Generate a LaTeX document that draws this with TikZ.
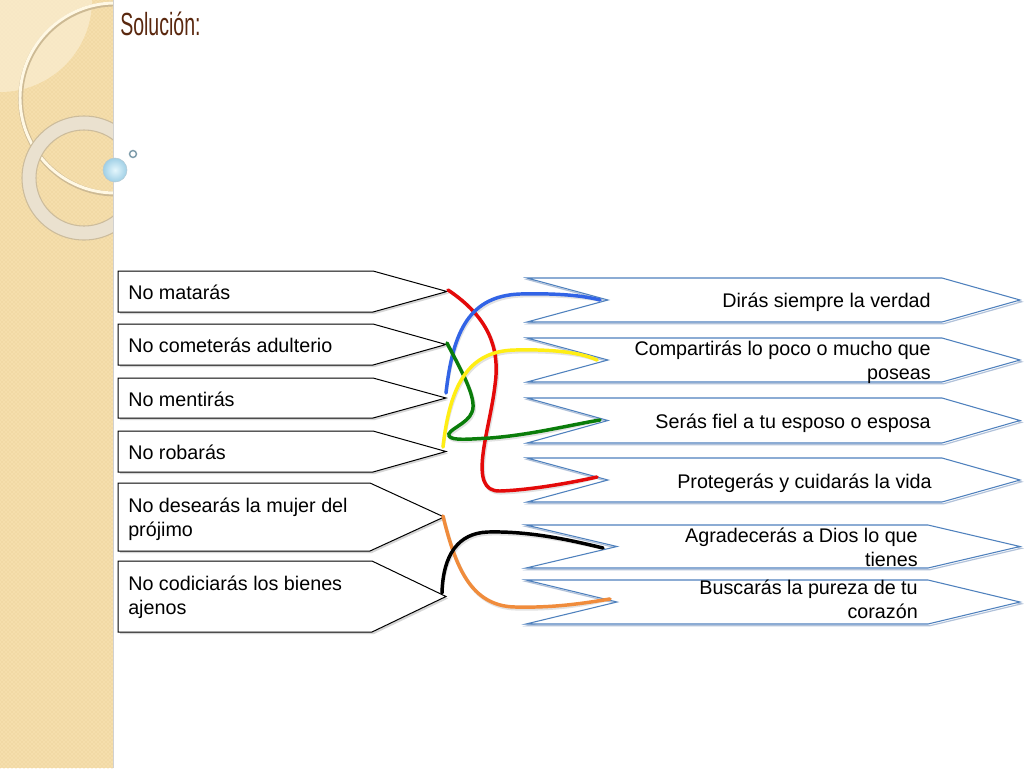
\documentclass[tikz,border=0pt]{standalone}
\usepackage{fontspec}
\setmainfont{Liberation Sans}
\usepackage{graphicx}
\usetikzlibrary{patterns}
\definecolor{stripcol}{RGB}{245,222,172}
\definecolor{stripdot}{RGB}{232,202,145}
\definecolor{lightcol}{RGB}{250,237,208}
\definecolor{creamline}{RGB}{255,248,228}
\definecolor{creamshadow}{RGB}{205,186,148}
\definecolor{ringcol}{RGB}{234,225,207}
\definecolor{ringedge}{RGB}{204,188,156}
\definecolor{bubbleout}{RGB}{160,208,230}
\definecolor{bubblein}{RGB}{228,246,252}
\definecolor{smallring}{RGB}{125,155,170}
\definecolor{titlebrown}{RGB}{90,40,15}
\definecolor{rbblue}{RGB}{79,129,189}
\definecolor{rbshadow}{RGB}{178,194,218}
\definecolor{wred}{RGB}{228,10,10}
\definecolor{wblue}{RGB}{50,100,230}
\definecolor{wyellow}{RGB}{255,238,20}
\definecolor{wgreen}{RGB}{10,125,10}
\definecolor{worange}{RGB}{240,140,60}
\newcommand\boxfont{\fontsize{14.8}{17.6}\selectfont}
\tikzset{
  lbox/.style={draw=black, line width=0.75pt, fill=white, line join=miter},
  lshadow/.style={fill=black!16},
  rbox/.style={draw=rbblue, line width=0.8pt, fill=white},
  rshadow/.style={draw=rbshadow, line width=0.9pt},
  ltext/.style={anchor=base west, align=left, font=\boxfont, inner sep=0pt},
  rtext/.style={anchor=base east, align=right, font=\boxfont, inner sep=0pt},
  wire/.style={line width=2.6pt, line cap=round},
  wireshadow/.style={line width=2.6pt, draw=black!45, opacity=0.25, line cap=round, shift={(1.2,1.8)}}
}
\begin{document}
\begin{tikzpicture}[x=0.75pt, y=-0.75pt]
\useasboundingbox (0,0) rectangle (1024,768);
\fill[white] (0,0) rectangle (1024,768);

% ---------- decorative strip ----------
\fill[stripcol] (0,0) rectangle (113,768);
\fill[pattern=crosshatch dots, pattern color=stripdot] (0,0) rectangle (113,768);
\begin{scope}
  \clip (0,0) rectangle (113,768);
  \fill[lightcol, opacity=0.75] (0,0) circle[radius=69pt];
  \draw[creamshadow, line width=3.6pt] (115.6,99) circle[radius=71.25pt];
  \draw[creamline, line width=2.2pt] (115,98) circle[radius=71.25pt];
  \draw[ringcol, line width=10.5pt] (84,178) circle[radius=41.25pt];
  \draw[ringedge, line width=0.8pt] (84,178) circle[radius=46.5pt];
  \draw[ringedge, line width=0.8pt] (84,178) circle[radius=36pt];
\end{scope}
\draw[black!18, line width=1.2pt] (113.5,0) -- (113.5,768);
\shade[inner color=bubblein, outer color=bubbleout] (115,170) circle[radius=9pt];
\draw[bubbleout!80!black!60, line width=0.4pt] (115,170) circle[radius=9pt];
\draw[smallring, line width=1.1pt] (133,154) circle[radius=2.6pt];

% ---------- title ----------
\node[anchor=base west, inner sep=0pt, text=titlebrown, font=\fontsize{24}{28}\selectfont] (title) at (120,35) {\scalebox{0.61}[1]{Solución:}};

% ---------- left boxes ----------
\foreach \t/\b/\p/\x in {271/312/373/447, 324/365/373/446, 378/418/373/446, 431/472/373/446, 483/551/370/444, 561/632/372/446}{
  \pgfmathsetmacro\ym{(\t+\b)/2}
  \fill[lshadow] (120,\t+2) -- (\p+2,\t+2) -- (\x+2,\ym+2) -- (\p+2,\b+2) -- (120,\b+2) -- cycle;
  \draw[lbox] (118,\t) -- (\p,\t) -- (\x,\ym) -- (\p,\b) -- (118,\b) -- cycle;
}
\node[ltext] (l1) at (128,299) {No matarás};
\node[ltext] (l2) at (128,352) {No cometerás adulterio};
\node[ltext] (l3) at (128,406) {No mentirás};
\node[ltext] (l4) at (128,459) {No robarás};
\node[ltext] (l5) at (128,536) {No desearás la mujer del\\prójimo};
\node[ltext] (l6) at (128,614) {No codiciarás los bienes\\ajenos};

% ---------- right chevrons ----------
\foreach \t/\b/\l/\n/\e in {278/322/527/608/942, 338/382/527/608/942, 398/443/527/608/942, 458/502/527/608/942, 525/568/526/617/928, 580/624/526/617/928}{
  \pgfmathsetmacro\ym{(\t+\b)/2}
  \draw[rshadow] (\l+1.5,\t+1.8) -- (\e+1.5,\t+1.8) -- (1021.5,\ym+1.8) -- (\e+1.5,\b+1.8) -- (\l+1.5,\b+1.8) -- (\n+1.5,\ym+1.8) -- cycle;
  \draw[rbox] (\l,\t) -- (\e,\t) -- (1020,\ym) -- (\e,\b) -- (\l,\b) -- (\n,\ym) -- cycle;
}
\node[rtext] (r1) at (931,307) {Dirás siempre la verdad};
\node[rtext] (r2) at (931,379) {Compartirás lo poco o mucho que\\poseas};
\node[rtext] (r3) at (931,428) {Serás fiel a tu esposo o esposa};
\node[rtext] (r4) at (932,488) {Protegerás y cuidarás la vida};
\node[rtext] (r5) at (918,566) {Agradecerás a Dios lo que\\tienes};
\node[rtext] (r6) at (918,618) {Buscarás la pureza de tu\\corazón};

% ---------- connection points ----------
\coordinate (w1) at (448,290);
\coordinate (w2) at (447,343);
\coordinate (w3) at (446,393);
\coordinate (w4) at (443,447);
\coordinate (w5) at (443,516);
\coordinate (w6) at (442,593);
\coordinate (n1) at (600,300);
\coordinate (n2) at (597,360);
\coordinate (n3) at (600,420);
\coordinate (n4) at (597,477);
\coordinate (n5) at (603,548);
\coordinate (n6) at (610,599);

% ---------- wires ----------
\def\redpath{(w1) .. controls (490,318) and (500,350) .. (495,385) .. controls (490,430) and (466,492) .. (500,491) .. controls (530,490) and (570,483) .. (n4)}
\def\bluepath{(w3) .. controls (453,330) and (470,296) .. (520,294) .. controls (560,293) and (585,296) .. (n1)}
\def\yellowpath{(w4) .. controls (450,385) and (468,351) .. (515,350) .. controls (555,349) and (582,353) .. (n2)}
\def\greenpath{(w2) .. controls (458,365) and (478,398) .. (472,412) .. controls (468,424) and (446,430) .. (449,436) .. controls (452,441) and (470,439) .. (490,438) .. controls (530,435) and (570,425) .. (n3)}
\def\orangepath{(w5) .. controls (455,565) and (470,606) .. (515,607) .. controls (555,608) and (585,603) .. (n6)}
\def\blackpath{(w6) .. controls (443,555) and (458,533) .. (488,532) .. controls (530,531) and (570,540) .. (n5)}

\draw[wireshadow] \redpath;
\draw[wireshadow] \bluepath;
\draw[wireshadow] \yellowpath;
\draw[wireshadow] \greenpath;
\draw[wireshadow] \orangepath;
\draw[wireshadow] \blackpath;

\draw[wire, wred] \redpath;
\draw[wire, wblue] \bluepath;
\draw[wire, wgreen] \greenpath;
\draw[wire, wyellow] \yellowpath;
\draw[wire, worange] \orangepath;
\draw[wire, black] \blackpath;
\end{tikzpicture}
\end{document}
